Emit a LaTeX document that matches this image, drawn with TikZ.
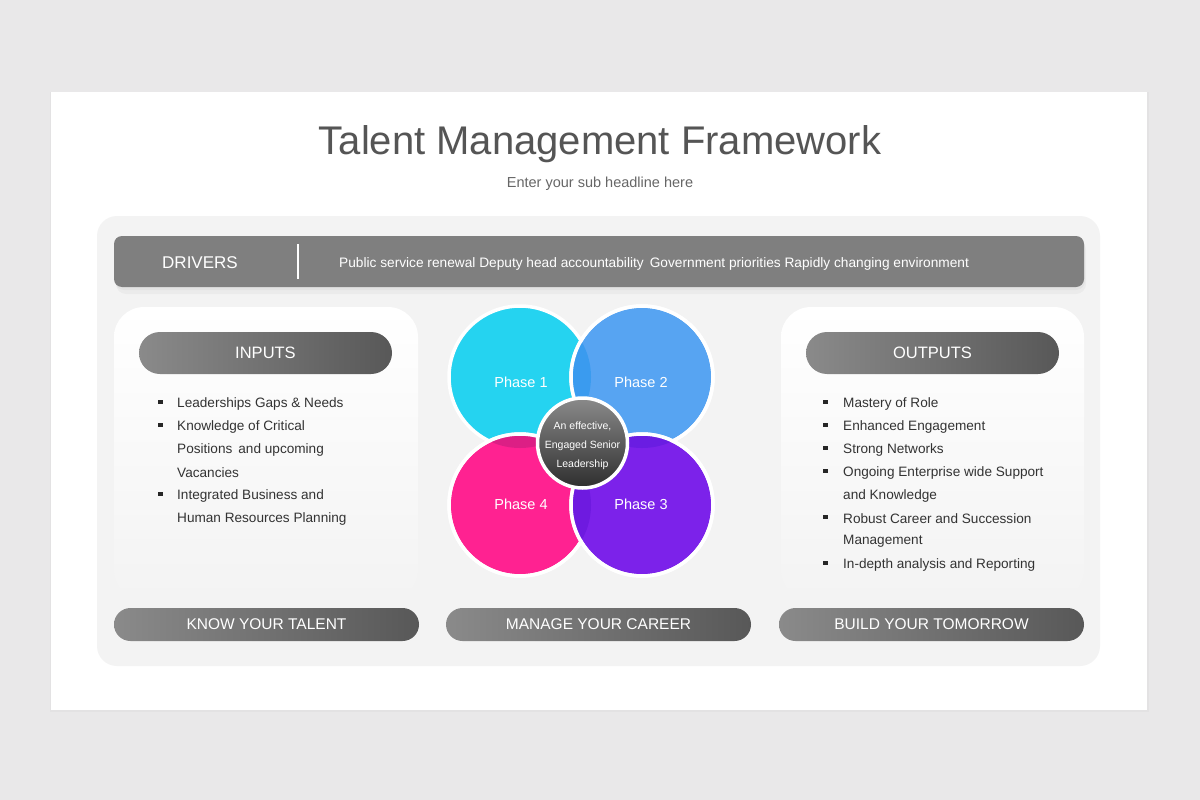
\documentclass[tikz,border=0pt]{standalone}
\usepackage{fontspec}
\setmainfont{Liberation Sans}
\definecolor{pagebg}{HTML}{E9E8E9}
\definecolor{panelbg}{HTML}{F3F3F3}
\definecolor{titlegray}{HTML}{555555}
\definecolor{subgray}{HTML}{666666}
\definecolor{bargray}{HTML}{7F7F7F}
\definecolor{pillL}{HTML}{8A8A8A}
\definecolor{pillR}{HTML}{585858}
\definecolor{bodytext}{HTML}{333333}
\definecolor{ph1}{HTML}{25D3F0}
\definecolor{ph2}{HTML}{57A4F2}
\definecolor{ph3}{HTML}{7C22EA}
\definecolor{ph4}{HTML}{FF2291}
\definecolor{ov12}{HTML}{3A9BEF}
\definecolor{ov14}{HTML}{DC1F85}
\definecolor{ov23}{HTML}{6A1DE2}
\definecolor{ov43}{HTML}{6E1AE0}
\definecolor{ctrT}{HTML}{8A8A8A}
\definecolor{ctrB}{HTML}{2E2E2E}
\tikzset{
  pill/.style={shading=axis, left color=pillL, right color=pillR, text=white,
    inner sep=0pt, font=\fontsize{16.5}{18}\selectfont},
  bigpill/.style={pill, minimum width=253pt, minimum height=42pt, rounded corners=21pt},
  botpill/.style={pill, minimum width=305pt, minimum height=33pt, rounded corners=16.5pt, font=\fontsize{15.5}{17}\selectfont},
  bul/.style={anchor=west, text=bodytext, inner sep=0pt, font=\fontsize{13.6}{16}\selectfont},
  sq/.style={fill=black!85, minimum size=4.5pt, inner sep=0pt},
  phase/.style={circle, minimum size=142pt, draw=white, line width=3.5pt},
  phlabel/.style={text=white, font=\fontsize{14.5}{16}\selectfont},
  ring/.style={draw=white, line width=3.5pt},
  sidepanel/.style={rounded corners=30pt, shading=axis, top color=white, bottom color=panelbg, draw=none}
}
\begin{document}
\begin{tikzpicture}[x=1pt,y=-1pt]
\useasboundingbox (0,0) rectangle (1200,800);
\fill[pagebg] (0,0) rectangle (1200,800);
% card
\fill[black, opacity=0.025] (50,92) rectangle (1149,712);
\fill[white] (51,92) rectangle (1147,710);
\node[text=titlegray, font=\fontsize{40}{46}\selectfont] (title) at (600,144) {Talent Management Framework};
\node[text=subgray, font=\fontsize{14.5}{17}\selectfont] (sub) at (600,184) {Enter your sub headline here};
% inner panel
\fill[panelbg, rounded corners=20pt] (97,216) rectangle (1100,666);
% drivers bar
\fill[black, opacity=0.03, rounded corners=10pt] (116,240) rectangle (1086,294);
\fill[black, opacity=0.03, rounded corners=9pt] (115,238) rectangle (1085,290);
\node[fill=bargray, rounded corners=8pt, minimum width=970pt, minimum height=51pt, inner sep=0pt] (drivers) at (599,261.5) {};
\node[text=white, font=\fontsize{17}{19}\selectfont] (drvlabel) at (200,263) {DRIVERS};
\coordinate (sepT) at (298,244);
\coordinate (sepB) at (298,279);
\draw[white, line width=1.2pt] (sepT) -- (sepB);
\node[anchor=west, text=white, inner sep=0pt, font=\fontsize{13.7}{16}\selectfont] (drvtext) at (339,264)
  {Public service renewal Deputy head accountability\, Government priorities Rapidly changing environment};
% side panels
\shade[sidepanel] (114,307) rectangle (418,600);
\shade[sidepanel] (781,307) rectangle (1084,600);
% inputs
\node[bigpill] (inputs) at (265.5,353) {INPUTS};
\node[sq] (ib1) at (160.5,402) {};
\node[bul] (i1) at (177,403.5) {Leaderships Gaps \& Needs};
\node[sq] (ib2) at (160.5,425) {};
\node[bul] (i2) at (177,426.5) {Knowledge of Critical};
\node[bul] (i3) at (177,449.5) {Positions\, and upcoming};
\node[bul] (i4) at (177,472.5) {Vacancies};
\node[sq] (ib3) at (160.5,494) {};
\node[bul] (i5) at (177,495.5) {Integrated Business and};
\node[bul] (i6) at (177,518.5) {Human Resources Planning};
% outputs
\node[bigpill] (outputs) at (932.5,353) {OUTPUTS};
\node[sq] (ob1) at (825.5,402) {};
\node[bul] (o1) at (843,403.5) {Mastery of Role};
\node[sq] (ob2) at (825.5,425) {};
\node[bul] (o2) at (843,426.5) {Enhanced Engagement};
\node[sq] (ob3) at (825.5,448) {};
\node[bul] (o3) at (843,449.5) {Strong Networks};
\node[sq] (ob4) at (825.5,471) {};
\node[bul] (o4) at (843,472.5) {Ongoing Enterprise wide Support};
\node[bul] (o5) at (843,495.5) {and Knowledge};
\node[sq] (ob5) at (825.5,517) {};
\node[bul] (o6) at (843,518.5) {Robust Career and Succession};
\node[bul] (o7) at (843,541.5) {Management};
\node[sq] (ob6) at (825.5,563) {};
\node[bul] (o8) at (843,564.5) {In-depth analysis and Reporting};
% phases
\coordinate (c1) at (520,377);
\coordinate (c2) at (642,377);
\coordinate (c3) at (642,505);
\coordinate (c4) at (520,505);
\node[phase, fill=ph1] (p1) at (c1) {};
\node[phase, fill=ph2] (p2) at (c2) {};
\begin{scope}
  \clip (c1) circle (71pt);
  \fill[ov12] (c2) circle (71pt);
\end{scope}
\draw[ring] (c2) circle (71pt);
\node[phase, fill=ph4] (p4) at (c4) {};
\begin{scope}
  \clip (c1) circle (71pt);
  \fill[ov14] (c4) circle (71pt);
\end{scope}
\draw[ring] (c4) circle (71pt);
\node[phase, fill=ph3] (p3) at (c3) {};
\begin{scope}
  \clip (c2) circle (71pt);
  \fill[ov23] (c3) circle (71pt);
\end{scope}
\begin{scope}
  \clip (c4) circle (71pt);
  \fill[ov43] (c3) circle (71pt);
\end{scope}
\draw[ring] (c3) circle (71pt);
\node[phlabel] (t1) at (521,382) {Phase 1};
\node[phlabel] (t2) at (641,382) {Phase 2};
\node[phlabel] (t4) at (521,504) {Phase 4};
\node[phlabel] (t3) at (641,504) {Phase 3};
\node[circle, minimum size=90pt, draw=white, line width=3.5pt, shading=axis, top color=ctrT, bottom color=ctrB] (ctr) at (582.5,443) {};
\node[text=white, align=center, font=\fontsize{10.5}{19}\selectfont] (ctrtext) at (582.5,446)
  {An effective,\\Engaged Senior\\Leadership};
% bottom pills
\node[botpill] (know) at (266.5,624.5) {KNOW YOUR TALENT};
\node[botpill] (manage) at (598.5,624.5) {MANAGE YOUR CAREER};
\node[botpill] (build) at (931.5,624.5) {BUILD YOUR TOMORROW};
\end{tikzpicture}
\end{document}
